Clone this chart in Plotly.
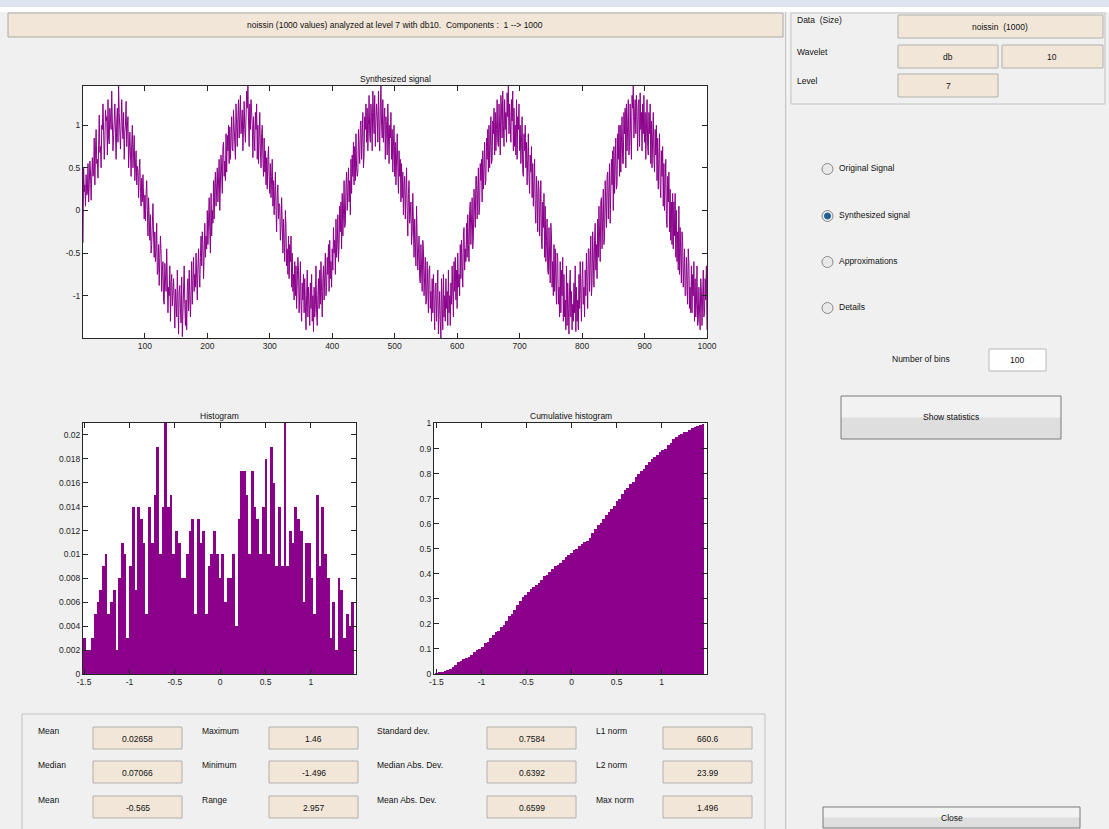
import numpy as np
import plotly.graph_objects as go

FIG_W, FIG_H = 1109, 829
FONT = "Liberation Sans, Arial, sans-serif"
PURPLE = "#8b008b"
BEIGE = "#f2e6d8"
BG = "#f0f0f0"
AXC = "#262626"
NB = "\u00a0"

# ---------------------------------------------------------------- data
# synthesized signal, in hundredths (1000 samples)
signal_centi = [
    -38, 50, 22, 30, 5,   42, 18, 20, 55, 10,
    30, 58, 45, 12, 40,   62, 40, 45, 85, 30,
    70, 95, 55, 60, 38,   90, 112, 68, 75, 50,
    100, 95, 125, 70, 60,   80, 118, 105, 110, 65,
    130, 85, 78, 120, 102,   95, 140, 110, 70, 88,
    112, 125, 90, 60, 105,   120, 80, 146, 115, 95,
    72, 100, 130, 98, 84,   115, 60, 92, 100, 128,
    75, 98, 110, 50, 85,   92, 66, 40, 80, 100,
    50, 78, 88, 35, 60,   70, 30, 52, 45, 15,
    48, 60, 20, 5, 38,   10, 42, 25, -10, 18,
    -12, 20, 35, 0, -30,   15, -22, -35, -5, -50,
    -40, -10, 8, -30, -55,   -25, -60, -45, -15, -75,
    -70, -40, -88, -55, -30,   -50, -95, -70, -60, -105,
    -110, -62, -80, -95, -45,   -70, -120, -90, -100, -65,
    -130, -85, -75, -112, -98,   -80, -105, -138, -92, -118,
    -125, -70, -100, -145, -95,   -88, -115, -132, -78, -148,
    -120, -100, -65, -110, -135,   -105, -140, -90, -80, -118,
    -70, -100, -125, -95, -60,   -110, -85, -55, -95, -75,
    -90, -50, -80, -105, -65,   -45, -75, -90, -55, -30,
    -65, -25, -40, -80, -50,   -15, -55, -30, -45, 0,
    -40, -10, 15, -25, -50,   20, -30, 0, -15, 35,
    -10, 30, 45, 5, 20,   50, 10, 30, 60, 0,
    28, 65, 45, 20, 75,   80, 40, 58, 35, 90,
    45, 88, 70, 100, 55,   98, 60, 85, 110, 72,
    70, 118, 95, 82, 60,   125, 100, 75, 110, 130,
    85, 120, 135, 90, 105,   118, 70, 100, 128, 95,
    80, 110, 140, 120, 146,   105, 75, 125, 95, 130,
    120, 100, 62, 110, 88,   70, 115, 95, 125, 60,
    100, 55, 85, 115, 70,   50, 90, 100, 60, 40,
    85, 45, 70, 30, 62,   25, 60, 75, 40, 20,
    55, 15, 40, 60, 5,   35, -5, 20, 45, 0,
    -25, 20, 30, -10, 8,   5, -35, -20, 15, -45,
    -50, -10, -30, -60, 0,   -20, -65, -45, -75, -30,
    -80, -40, -60, -30, -90,   -50, -95, -75, -105, -60,
    -100, -65, -115, -80, -55,   -70, -120, -95, -60, -110,
    -130, -85, -105, -75, -120,   -80, -115, -140, -100, -70,
    -125, -90, -110, -135, -85,   -115, -75, -130, -100, -142,
    -90, -125, -110, -65, -120,   -135, -100, -80, -115, -70,
    -110, -60, -95, -125, -80,   -65, -105, -85, -50, -100,
    -90, -55, -75, -40, -95,   -35, -80, -60, -90, -45,
    -70, -20, -50, -35, -75,   -10, -55, -40, -5, -60,
    -40, 5, -25, 10, -45,   20, -30, -5, 35, -20,
    -15, 30, 45, 0, 25,   50, 10, 35, -5, 60,
    20, 65, 40, 80, 30,   75, 35, 90, 50, 40,
    45, 95, 70, 55, 100,   105, 60, 85, 115, 50,
    65, 110, 95, 125, 80,   120, 70, 100, 135, 90,
    80, 125, 110, 70, 140,   115, 90, 135, 75, 105,
    125, 110, 80, 140, 95,   70, 120, 146, 100, 85,
    130, 80, 105, 120, 60,   110, 95, 65, 125, 75,
    55, 100, 85, 115, 60,   95, 45, 75, 100, 40,
    80, 30, 65, 90, 50,   20, 70, 40, 60, 10,
    55, 15, 45, -5, 30,   40, -10, 25, 50, 0,
    -30, 20, 35, -15, 10,   10, -40, -25, 20, -50,
    -55, -10, -35, -65, 5,   -20, -70, -50, -30, -80,
    -85, -40, -65, -95, -35,   -45, -100, -75, -55, -110,
    -105, -60, -90, -120, -70,   -65, -115, -95, -130, -80,
    -120, -75, -105, -140, -90,   -85, -130, -110, -70, -145,
    -120, -95, -130, -149.6, -80,   -110, -140, -75, -125, -100,
    -130, -80, -115, -95, -135,   -70, -120, -100, -135, -85,
    -110, -65, -95, -125, -60,   -95, -55, -105, -70, -115,
    -50, -90, -75, -100, -40,   -80, -35, -60, -90, -30,
    -20, -70, -45, -60, -15,   -55, -5, -40, -60, 0,
    10, -40, -20, 15, -45,   -30, 25, 5, -20, 40,
    40, -10, 25, 50, -5,   5, 55, 35, 60, 10,
    70, 25, 50, 80, 30,   35, 85, 60, 95, 45,
    100, 50, 75, 110, 55,   60, 105, 90, 120, 65,
    115, 70, 95, 130, 80,   75, 125, 105, 65, 135,
    120, 85, 140, 100, 75,   130, 95, 115, 80, 138,
    110, 146, 90, 125, 100,   80, 130, 105, 140, 70,
    120, 75, 100, 65, 130,   60, 110, 95, 125, 70,
    100, 55, 80, 110, 45,   40, 90, 70, 100, 50,
    80, 30, 60, 90, 40,   20, 65, 45, 75, 15,
    55, 5, 35, 60, 0,   -15, 40, 20, -25, 35,
    25, -30, 5, 35, -40,   -45, 10, -20, 20, -55,
    5, -60, -35, -10, -70,   -75, -20, -50, -85, -15,
    -30, -90, -60, -100, -40,   -95, -45, -80, -110, -50,
    -55, -110, -90, -125, -60,   -120, -70, -100, -55, -130,
    -75, -125, -105, -140, -65,   -135, -85, -115, -145, -90,
    -70, -125, -95, -140, -110,   -130, -85, -120, -65, -142,
    -90, -130, -105, -140, -75,   -115, -60, -100, -130, -80,
    -60, -110, -90, -125, -70,   -100, -50, -85, -115, -45,
    -45, -95, -70, -30, -100,   -85, -25, -60, -90, -35,
    -15, -70, -40, -80, -10,   -55, 5, -30, -60, 10,
    15, -45, -5, 25, -40,   -30, 35, 10, -20, 40,
    45, -10, 25, 55, -15,   10, 60, 30, 70, 0,
    75, 20, 55, 85, 25,   30, 90, 60, 100, 40,
    100, 45, 80, 110, 55,   55, 115, 90, 120, 50,
    125, 70, 100, 130, 65,   75, 125, 100, 60, 135,
    120, 146, 85, 110, 130,   90, 135, 110, 70, 125,
    130, 75, 138, 95, 115,   70, 125, 90, 135, 80,
    115, 60, 105, 130, 75,   65, 115, 90, 125, 55,
    105, 50, 85, 115, 60,   45, 95, 65, 100, 35,
    85, 25, 60, 90, 30,   15, 70, 40, 75, 5,
    55, 0, 35, 60, -10,   -20, 40, 10, 45, -25,
    25, -35, 10, -40, 20,   -45, 10, -30, 20, -55,
    0, -60, -25, -70, 5,   -75, -20, -55, -85, -25,
    -35, -90, -65, -45, -100,   -100, -55, -80, -110, -45,
    -60, -115, -90, -120, -65,   -120, -75, -100, -60, -130,
    -80, -125, -110, -65, -135,   -130, -90, -115, -140, -80,
    -95, -135, -105, -70, -125,   -120, -80, -105, -65, -140,
]

# counts per bin of the 100-bin histogram
hist_counts = [
    3, 2, 2, 3, 5, 6, 7, 9, 10, 5,
    6, 7, 2, 8, 11, 10, 3, 9, 14, 7,
    14, 13, 11, 5, 14, 11, 15, 19, 10, 14,
    21, 14, 15, 10, 12, 11, 8, 8, 10, 12,
    13, 5, 13, 11, 12, 5, 9, 10, 12, 10,
    8, 10, 6, 8, 8, 10, 4, 13, 17, 17,
    15, 10, 17, 14, 13, 10, 14, 18, 10, 19,
    16, 9, 14, 9, 21, 9, 12, 11, 14, 13,
    12, 6, 11, 11, 8, 5, 15, 9, 14, 10,
    8, 3, 6, 2, 8, 7, 3, 5, 4, 6,
]

sig_min, sig_max = -1.496, 1.46

sig_xticks = [100, 200, 300, 400, 500, 600, 700, 800, 900, 1000]
sig_yticks = [-1, -0.5, 0, 0.5, 1]
sig_yticklabels = ["-1", "-0.5", "0", "0.5", "1"]
val_xticks = [-1.5, -1, -0.5, 0, 0.5, 1]
val_xticklabels = ["-1.5", "-1", "-0.5", "0", "0.5", "1"]
hist_yticks = [0, 0.002, 0.004, 0.006, 0.008, 0.01, 0.012, 0.014, 0.016, 0.018, 0.02]
hist_yticklabels = ["0", "0.002", "0.004", "0.006", "0.008", "0.01", "0.012",
                    "0.014", "0.016", "0.018", "0.02"]
cum_yticks = [0, 0.1, 0.2, 0.3, 0.4, 0.5, 0.6, 0.7, 0.8, 0.9, 1]
cum_yticklabels = ["0", "0.1", "0.2", "0.3", "0.4", "0.5", "0.6", "0.7", "0.8", "0.9", "1"]

header_text = ("noissin (1000 values) analyzed at level 7 with db10." + NB + " Components :"
               + NB + " 1 --> 1000")

stat_labels = [["Mean", "Median", "Mean"],
               ["Maximum", "Minimum", "Range"],
               ["Standard dev.", "Median Abs. Dev.", "Mean Abs. Dev."],
               ["L1 norm", "L2 norm", "Max norm"]]
stat_values = [["0.02658", "0.07066", "-0.565"],
               ["1.46", "-1.496", "2.957"],
               ["0.7584", "0.6392", "0.6599"],
               ["660.6", "23.99", "1.496"]]

radio_options = ["Original Signal", "Synthesized signal", "Approximations", "Details"]
radio_selected = 1

# ---------------------------------------------------------------- derived
signal = np.array(signal_centi, dtype=float) / 100.0
sample_index = np.arange(1, len(signal) + 1)

n_bins = len(hist_counts)
bin_pos = np.linspace(sig_min, sig_max, n_bins)
bin_width = (sig_max - sig_min) / (n_bins - 1)
counts = np.array(hist_counts, dtype=float)
density = counts / len(signal)
cumulative = np.cumsum(counts) / counts.sum()


def px_x(px):
    return px / FIG_W


def px_y(py):
    return 1 - py / FIG_H


shapes = []
annotations = []


def rect(x0, y0, x1, y1, fill, line="#adadad", lw=1):
    shapes.append(dict(type="rect", xref="paper", yref="paper",
                       x0=px_x(x0), x1=px_x(x1), y0=px_y(y1), y1=px_y(y0),
                       fillcolor=fill, line=dict(color=line, width=lw)))


def vline(x, y0, y1, color, lw=1):
    shapes.append(dict(type="line", xref="paper", yref="paper",
                       x0=px_x(x), x1=px_x(x), y0=px_y(y0), y1=px_y(y1),
                       line=dict(color=color, width=lw)))


def circle(cx, cy, r, fill, line, lw=1):
    shapes.append(dict(type="circle", xref="paper", yref="paper",
                       x0=px_x(cx - r), x1=px_x(cx + r), y0=px_y(cy + r), y1=px_y(cy - r),
                       fillcolor=fill, line=dict(color=line, width=lw)))


def text(x, y, s, anchor="left", size=8.5, color="#111111"):
    annotations.append(dict(x=px_x(x), y=px_y(y), xref="paper", yref="paper",
                            text=s, showarrow=False, xanchor=anchor, yanchor="middle",
                            borderpad=0, font=dict(family=FONT, size=size, color=color)))


def button(x0, y0, x1, y1, label):
    ym = (y0 + y1) / 2
    rect(x0, y0, x1, ym, "#f2f2f2", line="rgba(0,0,0,0)", lw=0)
    rect(x0, ym, x1, y1, "#dedede", line="rgba(0,0,0,0)", lw=0)
    rect(x0, y0, x1, y1, "rgba(0,0,0,0)", line="#7a7a7a", lw=1)
    text((x0 + x1) / 2, ym, label, anchor="center")


# ---------------------------------------------------------------- window chrome
rect(0, 0, FIG_W, 7, "#dfe4f2", line="rgba(0,0,0,0)", lw=0)
rect(0, 7, FIG_W, 12, "#ffffff", line="rgba(0,0,0,0)", lw=0)

# header strip
rect(8, 13, 783, 37, BEIGE, line="#a9a9a9")
text(395, 25, header_text, anchor="center")

# separator between the graphics and the control column
vline(786, 12, FIG_H, "#a0a0a0")
vline(787, 12, FIG_H, "#ffffff")

# data / wavelet / level frame
rect(791, 13, 1105, 104, "rgba(0,0,0,0)", line="#c2c2c2")
text(796, 20, "Data " + NB + "(Size)")
text(796, 52, "Wavelet")
text(796, 81, "Level")
rect(898, 15, 1103, 38, BEIGE, line="#b0b0b0")
text(1000, 27, "noissin " + NB + "(1000)", anchor="center")
rect(898, 45, 998, 68, BEIGE, line="#b0b0b0")
text(948, 57, "db", anchor="center")
rect(1002, 45, 1103, 68, BEIGE, line="#b0b0b0")
text(1052, 57, "10", anchor="center")
rect(898, 74, 998, 97, BEIGE, line="#b0b0b0")
text(948, 86, "7", anchor="center")

# radio buttons
radio_y = [169, 216, 262, 308]
for i, (lab, ry) in enumerate(zip(radio_options, radio_y)):
    circle(827.5, ry, 5.5, "#e9e9e9", "#8a8a8a")
    if i == radio_selected:
        circle(827.5, ry, 3, "#1f5f99", "#1f5f99")
    text(838, ry - 1, lab)

# number of bins
text(891, 359, "Number of bins")
rect(989, 349, 1046, 371, "#ffffff", line="#b8b8b8")
text(1017.5, 360, str(n_bins), anchor="center")

button(841, 396, 1061, 439, "Show statistics")
button(823, 807, 1080, 828, "Close")

# statistics frame
rect(22, 714, 765, 830, "rgba(0,0,0,0)", line="#c2c2c2")
label_x = [37, 201, 376, 595]
box_x = [(93, 182), (269, 358), (487, 576), (663, 752)]
row_label_y = [731, 765, 800]
row_box_y = [(727, 749), (761, 783), (796, 818)]
for c in range(4):
    for r in range(3):
        text(label_x[c], row_label_y[r], stat_labels[c][r])
        bx0, bx1 = box_x[c]
        by0, by1 = row_box_y[r]
        rect(bx0, by0, bx1, by1, BEIGE, line="#b0b0b0")
        text((bx0 + bx1) / 2, (by0 + by1) / 2 + 0.5, stat_values[c][r], anchor="center")

# plot titles
text(395, 79, "Synthesized signal", anchor="center")
text(219, 416, "Histogram", anchor="center")
text(571, 416, "Cumulative histogram", anchor="center")

# ---------------------------------------------------------------- traces
fig = go.Figure()
fig.add_trace(go.Scatter(x=sample_index, y=signal, mode="lines",
                         line=dict(color=PURPLE, width=1), xaxis="x", yaxis="y",
                         hoverinfo="skip"))
fig.add_trace(go.Bar(x=bin_pos, y=density, width=bin_width,
                     marker=dict(color=PURPLE, line=dict(width=0)),
                     xaxis="x2", yaxis="y2", hoverinfo="skip"))
fig.add_trace(go.Bar(x=bin_pos, y=cumulative, width=bin_width,
                     marker=dict(color=PURPLE, line=dict(width=0)),
                     xaxis="x3", yaxis="y3", hoverinfo="skip"))

axis_style = dict(showline=True, linecolor=AXC, linewidth=1, mirror="ticks",
                  ticks="inside", ticklen=5, tickcolor=AXC, tickwidth=1,
                  tickfont=dict(family=FONT, size=8.5, color=AXC),
                  showgrid=False, zeroline=False, fixedrange=True, automargin=False)

fig.update_layout(
    template="none",
    width=FIG_W, height=FIG_H, autosize=False,
    margin=dict(l=0, r=0, t=0, b=0, pad=0, autoexpand=False),
    paper_bgcolor=BG, plot_bgcolor="#ffffff",
    showlegend=False, bargap=0,
    font=dict(family=FONT, size=8.5, color="#111111"),
    shapes=shapes, annotations=annotations,
    xaxis=dict(domain=[px_x(83), px_x(707)], anchor="y", range=[1, len(signal)],
               tickvals=sig_xticks, ticktext=[str(v) for v in sig_xticks], **axis_style),
    yaxis=dict(domain=[px_y(338), px_y(86)], anchor="x", range=[sig_min, sig_max],
               tickvals=sig_yticks, ticktext=sig_yticklabels, **axis_style),
    xaxis2=dict(domain=[px_x(83), px_x(356)], anchor="y2", range=[-1.512, 1.497],
                tickvals=val_xticks, ticktext=val_xticklabels, **axis_style),
    yaxis2=dict(domain=[px_y(674), px_y(423)], anchor="x2", range=[0, 0.021],
                tickvals=hist_yticks, ticktext=hist_yticklabels, **axis_style),
    xaxis3=dict(domain=[px_x(434), px_x(707)], anchor="y3", range=[-1.527, 1.503],
                tickvals=val_xticks, ticktext=val_xticklabels, **axis_style),
    yaxis3=dict(domain=[px_y(674), px_y(423)], anchor="x3", range=[0, 1.002],
                tickvals=cum_yticks, ticktext=cum_yticklabels, **axis_style),
)

fig.write_html("out.html", config={"displayModeBar": False})
